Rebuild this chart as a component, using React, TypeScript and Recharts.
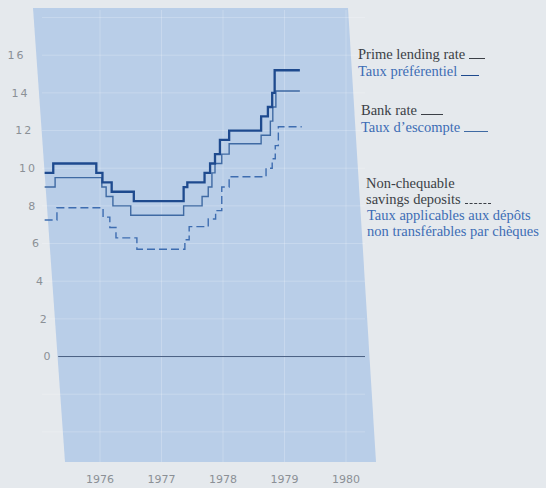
import React from 'react';
import {
  LineChart, Line, XAxis, YAxis, CartesianGrid, ReferenceLine
} from 'recharts';

// x positions are decimal years (label at the middle of each tick)
const yearTicks = [1976, 1977, 1978, 1979, 1980];
const rateTicks = [0, 2, 4, 6, 8, 10, 12, 14, 16];

const primeT = [1975.1, 1975.24, 1975.94, 1976.04, 1976.19, 1976.55, 1977.36, 1977.42, 1977.7, 1977.79, 1977.87, 1977.95, 1978.1, 1978.62, 1978.73, 1978.8, 1978.84, 1979.25];
const primeV = [9.75, 10.25, 9.75, 9.25, 8.75, 8.25, 9.0, 9.25, 9.75, 10.25, 10.75, 11.5, 12.0, 12.75, 13.25, 14.0, 15.2, 15.2];

const bankT = [1975.1, 1975.27, 1976.03, 1976.1, 1976.21, 1976.5, 1977.36, 1977.66, 1977.76, 1977.82, 1977.87, 1977.98, 1978.1, 1978.62, 1978.77, 1978.81, 1978.86, 1979.25];
const bankV = [9.0, 9.5, 9.0, 8.5, 8.0, 7.5, 8.0, 8.5, 9.0, 9.75, 10.25, 10.75, 11.3, 11.75, 12.5, 13.25, 14.1, 14.1];

const savingsT = [1975.1, 1975.3, 1976.05, 1976.16, 1976.26, 1976.6, 1977.38, 1977.45, 1977.76, 1977.88, 1977.98, 1978.1, 1978.7, 1978.8, 1978.85, 1978.9, 1979.28];
const savingsV = [7.25, 7.9, 7.4, 6.85, 6.3, 5.7, 6.2, 6.9, 7.3, 7.75, 9.0, 9.55, 10.0, 10.5, 11.2, 12.2, 12.2];

const toPoints = (ts: number[], vs: number[]) => ts.map((t, i) => ({ t, v: vs[i] }));

const prime = toPoints(primeT, primeV);
const bank = toPoints(bankT, bankV);
const savings = toPoints(savingsT, savingsV);

const PAGE_BG = '#e5e9ed';
const PLOT_BG = '#b9cee8';
const TICK = '#8b9096';

// the printed page is slightly skewed, so the rate labels drift right as they go down
const RateTick = (props: any) => {
  const { y, payload } = props;
  const v = payload.value as number;
  const cx = 47 - v * 1.9;
  return (
    <text x={cx} y={y} dy="0.35em" textAnchor="middle" fill={TICK}
      fontSize={11} fontFamily="DejaVu Sans" letterSpacing={v >= 10 ? 2 : 0}>
      {v}
    </text>
  );
};

const serif = '"Liberation Serif", "DejaVu Serif", serif';

const legendText: React.CSSProperties = {
  position: 'absolute', fontFamily: serif, fontSize: 14.5, lineHeight: '16px', whiteSpace: 'nowrap'
};
const dark = '#3b3f46';
const blue = '#3d6db5';

const Rule = ({ color, width, dashed }: { color: string; width: number; dashed?: boolean }) => (
  <span style={{
    display: 'inline-block', width, marginLeft: 4, verticalAlign: 'baseline',
    borderBottom: `1.5px ${dashed ? 'dashed' : 'solid'} ${color}`
  }} />
);

export default function App() {
  return (
    <div style={{ position: 'absolute', top: 0, left: 0, width: 546, height: 488, background: PAGE_BG }}>
      {/* shaded panel, photographed a little askew */}
      <svg width={546} height={488} style={{ position: 'absolute', top: 0, left: 0 }}>
        <polygon points="33,8 348,8 376,462 65,462" fill={PLOT_BG} />
      </svg>
      <div style={{ position: 'absolute', top: 0, left: 0 }}>
        <LineChart width={546} height={488} margin={{ top: 10, right: 181, bottom: 0, left: 12 }}>
          <CartesianGrid stroke="#ffffff" strokeOpacity={0.22} strokeWidth={1}
            horizontalValues={[-4, -2, 2, 4, 6, 8, 10, 12, 14, 16, 18]}
            verticalValues={yearTicks} />
          <XAxis type="number" dataKey="t" domain={[1975.057, 1980.309]} ticks={yearTicks}
            axisLine={false} tickLine={false} tickMargin={7} height={26}
            tick={{ fill: TICK, fontSize: 11, fontFamily: 'DejaVu Sans' }} allowDataOverflow />
          <YAxis type="number" domain={[-5.6, 18.4]} ticks={rateTicks} width={30}
            axisLine={false} tickLine={false} tick={<RateTick />} allowDataOverflow />
          <ReferenceLine segment={[{ x: 1975.32, y: 0 }, { x: 1980.309, y: 0 }]}
            stroke="#4a5f82" strokeWidth={1} ifOverflow="hidden" />
          <Line data={savings} dataKey="v" type="stepAfter" stroke="#3e6db0" strokeWidth={1.4}
            strokeDasharray="8 4" dot={false} isAnimationActive={false} />
          <Line data={bank} dataKey="v" type="stepAfter" stroke="#3f6aa3" strokeWidth={1.4}
            dot={false} isAnimationActive={false} />
          <Line data={prime} dataKey="v" type="stepAfter" stroke="#1e4a8e" strokeWidth={2.3}
            dot={false} isAnimationActive={false} />
        </LineChart>
      </div>

      <div style={{ ...legendText, left: 358, top: 46, color: dark }}>Prime lending rate<Rule color={dark} width={16} /></div>
      <div style={{ ...legendText, left: 358, top: 63, color: blue }}>Taux préférentiel<Rule color="#1e4a8e" width={18} /></div>

      <div style={{ ...legendText, left: 361, top: 102, color: dark }}>Bank rate<Rule color={dark} width={22} /></div>
      <div style={{ ...legendText, left: 361, top: 119, color: blue }}>Taux d’escompte<Rule color="#3f6aa3" width={24} /></div>

      <div style={{ ...legendText, left: 366, top: 175, color: dark }}>Non-chequable</div>
      <div style={{ ...legendText, left: 366, top: 191, color: dark }}>savings deposits<Rule color={dark} width={26} dashed /></div>
      <div style={{ ...legendText, left: 367, top: 207, color: blue }}>Taux applicables aux dépôts</div>
      <div style={{ ...legendText, left: 367, top: 223, color: blue }}>non transférables par chèques</div>
    </div>
  );
}
